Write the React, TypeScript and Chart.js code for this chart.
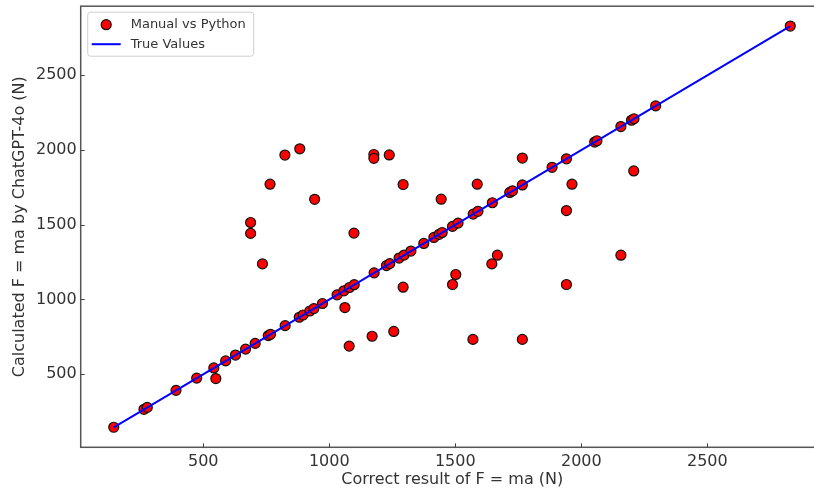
import { useEffect, useRef } from "react";
import { Chart, registerables } from "chart.js";

Chart.register(...registerables);

// Correct result of F = ma (N)
const correctValues = [
  145, 265, 278, 392, 474, 542, 589, 628, 668, 706, 758, 767, 825, 881, 896, 923,
  939, 973, 1031, 1058, 1080, 1099, 1178, 1227, 1240, 1277, 1297, 1324, 1375, 1415,
  1436, 1448, 1489, 1511, 1571, 1590, 1647, 1716, 1727, 1766, 1884, 1941, 2053, 2062,
  2157, 2199, 2209, 2295, 2829,
  550, 735, 1062, 942, 1098, 1293, 1444, 1587, 1293, 1502, 1489, 1079, 1170, 1256,
  1570, 1766, 1963, 1941, 2208, 1667, 2157, 824, 883, 765, 688, 688, 1177, 1177,
  1238, 1645, 1941, 1766,
];
// Calculated F = ma by ChatGPT-4o (N)
const calculatedValues = [
  145, 265, 278, 392, 474, 542, 589, 628, 668, 706, 758, 767, 825, 881, 896, 923,
  939, 973, 1031, 1058, 1080, 1099, 1178, 1227, 1240, 1277, 1297, 1324, 1375, 1415,
  1436, 1448, 1489, 1511, 1571, 1590, 1647, 1716, 1727, 1766, 1884, 1941, 2053, 2062,
  2157, 2199, 2209, 2295, 2829,
  471, 1238, 946, 1670, 1444, 1769, 1671, 1771, 1082, 1167, 1100, 688, 754, 786,
  733, 1946, 1771, 1595, 1860, 1296, 1296, 1966, 2008, 1771, 1515, 1442, 1970, 1944,
  1967, 1238, 1100, 733,
];
const trueLineRange = [145, 2829];
const xTickValues = [500, 1000, 1500, 2000, 2500];
const yTickValues = [500, 1000, 1500, 2000, 2500];
const seriesNames = ["Manual vs Python", "True Values"];
const xAxisTitle = "Correct result of F = ma (N)";
const yAxisTitle = "Calculated F = ma by ChatGPT-4o (N)";

const FONT = "'DejaVu Sans', sans-serif";

const zeroPadding = (s: any) => {
  s.paddingTop = 0;
  s.paddingBottom = 0;
  s.paddingLeft = 0;
  s.paddingRight = 0;
};

const framePlugin = {
  id: "mplFrame",
  afterDraw(chart: any) {
    const { ctx, chartArea: a, scales } = chart;
    ctx.save();
    ctx.strokeStyle = "#555";
    ctx.lineWidth = 1.5;
    ctx.strokeRect(a.left, a.top, a.right - a.left, a.bottom - a.top);
    ctx.lineWidth = 1;
    ctx.strokeStyle = "#444";
    xTickValues.forEach((v) => {
      const p = Math.round(scales.x.getPixelForValue(v)) + 0.5;
      ctx.beginPath();
      ctx.moveTo(p, a.bottom);
      ctx.lineTo(p, a.bottom - 4);
      ctx.stroke();
    });
    yTickValues.forEach((v) => {
      const p = Math.round(scales.y.getPixelForValue(v)) + 0.5;
      ctx.beginPath();
      ctx.moveTo(a.left, p);
      ctx.lineTo(a.left + 4, p);
      ctx.stroke();
    });

    // legend (upper left, inside axes)
    const ds = chart.data.datasets;
    const scatter = ds.find((d: any) => d.type === "scatter");
    const line = ds.find((d: any) => d.type === "line");
    const bx = a.left + 7;
    const by = a.top + 6;
    const bw = 166;
    const bh = 44;
    ctx.beginPath();
    ctx.roundRect(bx, by, bw, bh, 3);
    ctx.fillStyle = "rgba(255,255,255,0.8)";
    ctx.fill();
    ctx.strokeStyle = "#d0d0d0";
    ctx.lineWidth = 1;
    ctx.stroke();

    ctx.beginPath();
    ctx.arc(bx + 18.5, by + 12.5, 5, 0, Math.PI * 2);
    ctx.fillStyle = scatter.backgroundColor;
    ctx.fill();
    ctx.strokeStyle = scatter.borderColor;
    ctx.lineWidth = 1.2;
    ctx.stroke();

    ctx.beginPath();
    ctx.moveTo(bx + 4, by + 32);
    ctx.lineTo(bx + 33, by + 32);
    ctx.strokeStyle = line.borderColor;
    ctx.lineWidth = 2;
    ctx.stroke();

    ctx.fillStyle = "#333";
    ctx.font = `13px ${FONT}`;
    ctx.textBaseline = "middle";
    ctx.textAlign = "left";
    ctx.fillText(scatter.label, bx + 43, by + 12.5);
    ctx.fillText(line.label, bx + 43, by + 32);
    ctx.restore();
  },
};

export default function App() {
  const ref = useRef<HTMLCanvasElement>(null);

  useEffect(() => {
    if (!ref.current) return;
    const points = correctValues.map((x, i) => ({ x, y: calculatedValues[i] }));
    const linePts = trueLineRange.map((v) => ({ x: v, y: v }));
    const chart = new Chart(ref.current, {
      type: "scatter",
      data: {
        datasets: [
          {
            type: "line",
            label: seriesNames[1],
            data: linePts,
            borderColor: "#0000ff",
            borderWidth: 2,
            pointRadius: 0,
            fill: false,
            order: 0,
          } as any,
          {
            type: "scatter",
            label: seriesNames[0],
            data: points,
            backgroundColor: "#ff0000",
            borderColor: "#111111",
            borderWidth: 1.2,
            pointRadius: 5,
            order: 1,
          } as any,
        ],
      },
      options: {
        responsive: false,
        animation: false,
        devicePixelRatio: window.devicePixelRatio || 1,
        layout: { padding: { top: 1.8, right: 6, left: 0, bottom: 0 } },
        plugins: { legend: { display: false }, tooltip: { enabled: false } },
        scales: {
          x: {
            type: "linear",
            min: 13.9,
            max: 2962,
            grid: { display: false, drawTicks: false },
            border: { display: false },
            afterBuildTicks: (s: any) => {
              s.ticks = xTickValues.map((v) => ({ value: v }));
            },
            afterFit: (s: any) => {
              s.height = 45.7;
              zeroPadding(s);
            },
            ticks: {
              includeBounds: false,
              padding: 5,
              color: "#333",
              font: { family: FONT, size: 16 },
              callback: (v: any) => String(v),
            },
            title: {
              display: true,
              text: xAxisTitle,
              color: "#333",
              font: { family: FONT, size: 16 },
              padding: { top: 0, bottom: 3.4 },
            },
          },
          y: {
            type: "linear",
            min: 11,
            max: 2962,
            grid: { display: false, drawTicks: false },
            border: { display: false },
            afterBuildTicks: (s: any) => {
              s.ticks = yTickValues.map((v) => ({ value: v }));
            },
            afterFit: (s: any) => {
              s.width = 80.7;
              zeroPadding(s);
            },
            ticks: {
              includeBounds: false,
              padding: 4,
              color: "#333",
              font: { family: FONT, size: 16 },
              callback: (v: any) => String(v),
            },
            title: {
              display: true,
              text: yAxisTitle,
              color: "#333",
              font: { family: FONT, size: 16 },
              padding: { top: 10.4, bottom: 0 },
            },
          },
        },
      },
      plugins: [framePlugin],
    });
    return () => chart.destroy();
  }, []);

  return (
    <div
      style={{
        position: "fixed",
        left: 0,
        top: 0,
        width: 814,
        height: 493,
        overflow: "hidden",
        background: "#fff",
      }}
    >
      <canvas ref={ref} width={830} height={493} style={{ display: "block" }} />
    </div>
  );
}
